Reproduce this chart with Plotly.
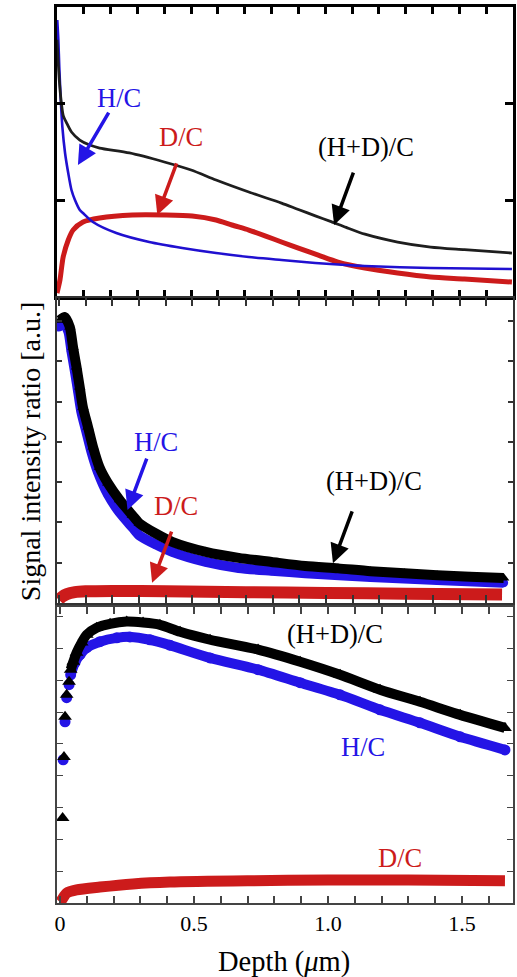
import plotly.graph_objects as go

# ---------------- Panel 1 (top) ----------------
p1_hd_depth = [0.0, 0.0085, 0.015, 0.023, 0.036, 0.054, 0.085, 0.122, 0.159, 0.27, 0.40, 0.50, 0.593, 0.715, 0.837, 0.90, 0.963, 1.022, 1.078, 1.148, 1.27, 1.393, 1.519, 1.696]
p1_hd = [2.66, 2.245, 2.04, 1.88, 1.80, 1.707, 1.624, 1.572, 1.541, 1.49, 1.397, 1.314, 1.21, 1.086, 0.972, 0.905, 0.84, 0.78, 0.72, 0.65, 0.569, 0.517, 0.49, 0.455]

p1_h_depth = [0.001, 0.005, 0.0085, 0.014, 0.02, 0.03, 0.042, 0.054, 0.067, 0.085, 0.097, 0.134, 0.221, 0.344, 0.467, 0.593, 0.715, 0.837, 0.963, 1.078, 1.148, 1.393, 1.696]
p1_h = [2.865, 2.66, 2.38, 2.04, 1.76, 1.49, 1.28, 1.107, 1.003, 0.90, 0.869, 0.776, 0.662, 0.569, 0.507, 0.455, 0.414, 0.383, 0.352, 0.331, 0.321, 0.30, 0.29]

p1_d_depth = [0.0, 0.011, 0.023, 0.042, 0.060, 0.097, 0.159, 0.281, 0.407, 0.504, 0.593, 0.652, 0.715, 0.778, 0.837, 0.90, 0.974, 1.048, 1.148, 1.27, 1.393, 1.519, 1.696]
p1_d = [0.041, 0.176, 0.414, 0.590, 0.693, 0.776, 0.817, 0.848, 0.848, 0.838, 0.797, 0.745, 0.693, 0.631, 0.569, 0.507, 0.434, 0.362, 0.300, 0.248, 0.207, 0.186, 0.155]

# ---------------- Panel 2 (middle) ----------------
p2_hd_depth = [0.004, 0.022, 0.041, 0.053, 0.066, 0.078, 0.09, 0.109, 0.128, 0.152, 0.183, 0.227, 0.275, 0.301, 0.364, 0.424, 0.55, 0.673, 0.796, 0.922, 1.045, 1.167, 1.294, 1.416, 1.539, 1.665]
p2_hd = [7.02, 7.10, 6.85, 6.35, 5.86, 5.36, 4.86, 4.37, 3.87, 3.37, 2.98, 2.56, 2.18, 1.98, 1.72, 1.52, 1.27, 1.12, 1.02, 0.92, 0.86, 0.79, 0.74, 0.69, 0.65, 0.62]
p2_h_depth = [0.0, 0.015, 0.035, 0.047, 0.06, 0.072, 0.084, 0.103, 0.122, 0.146, 0.183, 0.227, 0.275, 0.301, 0.364, 0.424, 0.55, 0.673, 0.796, 0.922, 1.167, 1.416, 1.665]
p2_h = [6.85, 6.95, 6.75, 6.25, 5.75, 5.25, 4.75, 4.25, 3.75, 3.25, 2.70, 2.25, 1.88, 1.68, 1.45, 1.27, 1.02, 0.87, 0.80, 0.74, 0.645, 0.57, 0.50]
p2_d_depth = [0.0, 0.011, 0.03, 0.06, 0.10, 0.20, 0.40, 0.70, 1.00, 1.30, 1.659]
p2_d = [0.08, 0.15, 0.22, 0.27, 0.29, 0.30, 0.29, 0.27, 0.25, 0.23, 0.21]

# ---------------- Panel 3 (bottom) ----------------
p3_hd_depth = [0.010, 0.015, 0.019, 0.025, 0.034, 0.040, 0.050, 0.062, 0.081, 0.10, 0.137, 0.187, 0.249, 0.31, 0.373, 0.448, 0.56, 0.739, 0.896, 1.045, 1.194, 1.343, 1.493, 1.66]
p3_hd = [2.67, 4.59, 5.85, 6.54, 6.95, 7.33, 7.58, 7.86, 8.18, 8.43, 8.65, 8.77, 8.84, 8.81, 8.74, 8.52, 8.27, 7.96, 7.58, 7.17, 6.70, 6.32, 5.91, 5.50]
p3_h_depth = [0.012, 0.019, 0.025, 0.034, 0.040, 0.056, 0.075, 0.10, 0.149, 0.212, 0.261, 0.336, 0.41, 0.56, 0.739, 0.896, 1.045, 1.194, 1.343, 1.493, 1.66]
p3_h = [4.50, 5.69, 6.45, 6.86, 7.17, 7.55, 7.80, 8.02, 8.21, 8.33, 8.36, 8.27, 8.10, 7.70, 7.33, 6.92, 6.54, 6.07, 5.66, 5.22, 4.81]
p3_d_depth = [0.0, 0.006, 0.025, 0.062, 0.149, 0.272, 0.41, 0.70, 1.00, 1.30, 1.66]
p3_d = [0.03, 0.09, 0.31, 0.41, 0.50, 0.60, 0.66, 0.70, 0.72, 0.72, 0.70]

x_tick_vals = [round(0.1 * i, 1) for i in range(17)]
x_tick_text = ["0", "", "", "", "", "0.5", "", "", "", "", "1.0", "", "", "", "", "1.5", ""]

BLUE = "#2414e6"
RED = "#cc1b1b"
BLACK = "#1e1e1e"
FONT = "Liberation Serif"
SPL = dict(shape="spline", smoothing=0.7)

fig = go.Figure()

# panel 1
fig.add_trace(go.Scatter(x=p1_d_depth, y=p1_d, mode="lines", line=dict(color=RED, width=5, **SPL), xaxis="x", yaxis="y"))
fig.add_trace(go.Scatter(x=p1_h_depth, y=p1_h, mode="lines", line=dict(color="#2010d0", width=2.6, **SPL), xaxis="x", yaxis="y"))
fig.add_trace(go.Scatter(x=p1_hd_depth, y=p1_hd, mode="lines", line=dict(color=BLACK, width=2.8, **SPL), xaxis="x", yaxis="y"))

# panel 2
fig.add_trace(go.Scatter(x=p2_d_depth, y=p2_d, mode="lines", line=dict(color=RED, width=12, **SPL), xaxis="x2", yaxis="y2"))
fig.add_trace(go.Scatter(x=p2_h_depth, y=p2_h, mode="lines+markers", line=dict(color=BLUE, width=10, **SPL),
                         marker=dict(symbol="circle", size=9, color=BLUE), xaxis="x2", yaxis="y2"))
fig.add_trace(go.Scatter(x=p2_hd_depth, y=p2_hd, mode="lines+markers", line=dict(color="black", width=10, **SPL),
                         marker=dict(symbol="triangle-up", size=10, color="black"), xaxis="x2", yaxis="y2"))

# panel 3
fig.add_trace(go.Scatter(x=p3_d_depth, y=p3_d, mode="lines", line=dict(color=RED, width=11, **SPL), xaxis="x3", yaxis="y3"))
fig.add_trace(go.Scatter(x=p3_h_depth, y=p3_h, mode="markers", marker=dict(symbol="circle", size=11, color=BLUE), xaxis="x3", yaxis="y3"))
fig.add_trace(go.Scatter(x=p3_h_depth[4:], y=p3_h[4:], mode="lines", line=dict(color=BLUE, width=10, **SPL), xaxis="x3", yaxis="y3"))
fig.add_trace(go.Scatter(x=p3_hd_depth, y=p3_hd, mode="markers", marker=dict(symbol="triangle-up", size=12, color="black"), xaxis="x3", yaxis="y3"))
fig.add_trace(go.Scatter(x=p3_hd_depth[5:], y=p3_hd[5:], mode="lines", line=dict(color="black", width=10, **SPL), xaxis="x3", yaxis="y3"))

# axes
def xax(rng, anchor, lw, lc, tlen, tw, labels=False):
    return dict(range=rng, anchor=anchor, showgrid=False, zeroline=False, showline=True, linecolor=lc, linewidth=lw,
                mirror="ticks", ticks="inside", ticklen=tlen, tickwidth=tw, tickcolor=lc,
                tickmode="array", tickvals=x_tick_vals, ticktext=x_tick_text, showticklabels=labels,
                tickfont=dict(family=FONT, size=22, color="black"))

def yax(rng, domain, anchor, lw, lc, tlen, tw, tvals):
    return dict(range=rng, domain=domain, anchor=anchor, showgrid=False, zeroline=False, showline=True, linecolor=lc, linewidth=lw,
                mirror="ticks", ticks="inside", ticklen=tlen, tickwidth=tw, tickcolor=lc,
                tickmode="array", tickvals=tvals, showticklabels=False)

fig.update_layout(
    width=517, height=977,
    margin=dict(l=57, r=1, t=7, b=74),
    paper_bgcolor="white", plot_bgcolor="white",
    showlegend=False,
    font=dict(family=FONT, color="black"),
    xaxis=xax([0, 1.70], "y", 3, "black", 7, 3),
    yaxis=yax([0, 3], [0.6763, 1.0], "x", 3, "black", 8, 3, [1, 2]),
    xaxis2=xax([-0.007, 1.70], "y2", 2, "#333333", 8, 2),
    yaxis2=yax([0, 7.57], [0.3348, 0.6752], "x2", 2, "#333333", 5, 2, [1, 2, 3, 4, 5, 6, 7]),
    xaxis3=xax([-0.011, 1.69], "y3", 1.5, "#444444", 7, 1.5, labels=True),
    yaxis3=yax([0, 9.3], [0.0, 0.3304], "x3", 1.5, "#444444", 6, 1.2, [1, 2, 3, 4, 5, 6, 7, 8, 9]),
)

ann = []
def label(text, x, y, color, xr, yr, size=26.5, bg=None):
    d = dict(text=text, x=x, y=y, xref=xr, yref=yr, showarrow=False, xanchor="center", yanchor="middle",
             font=dict(family=FONT, size=size, color=color))
    if bg:
        d["bgcolor"] = bg
    ann.append(d)

def arrow(x, y, ax, ay, color, xr, yr):
    ann.append(dict(text="", x=x, y=y, ax=ax, ay=ay, xref=xr, yref=yr, axref=xr, ayref=yr, showarrow=True,
                    arrowhead=2, arrowsize=1.1, arrowwidth=3.5, arrowcolor=color))

# panel 1 labels
label("H/C", 0.23, 2.06, BLUE, "x", "y")
arrow(0.078, 1.366, 0.196, 1.924, BLUE, "x", "y")
label("D/C", 0.463, 1.655, RED, "x", "y")
arrow(0.374, 0.848, 0.448, 1.397, RED, "x", "y")
label("(H+D)/C", 1.152, 1.552, "black", "x", "y")
arrow(1.033, 0.745, 1.107, 1.303, "black", "x", "y")

# panel 2 labels
label("H/C", 0.364, 4.0, BLUE, "x2", "y2")
arrow(0.257, 2.31, 0.331, 3.62, BLUE, "x2", "y2")
label("D/C", 0.439, 2.41, RED, "x2", "y2")
arrow(0.349, 0.50, 0.424, 1.81, RED, "x2", "y2")
label("(H+D)/C", 1.178, 3.03, "black", "x2", "y2")
arrow(1.026, 0.99, 1.100, 2.31, "black", "x2", "y2")

# panel 3 labels
label("(H+D)/C", 1.026, 8.46, "black", "x3", "y3", bg="white")
label("H/C", 1.131, 4.91, BLUE, "x3", "y3")
label("D/C", 1.269, 1.42, RED, "x3", "y3")

# axis titles (positions in paper coordinates of the plot area)
ann.append(dict(text="Signal intensity ratio [a.u.]", x=(30 - 57) / 459, y=(903 - 452) / 896, xref="paper", yref="paper",
                xanchor="center", yanchor="middle", showarrow=False, textangle=-90,
                font=dict(family=FONT, size=28, color="black")))
ann.append(dict(text="Depth (<i>μ</i>m)", x=(285 - 57) / 459, y=(903 - 962) / 896, xref="paper", yref="paper",
                xanchor="center", yanchor="middle", showarrow=False,
                font=dict(family=FONT, size=28.5, color="black")))

fig.update_layout(annotations=ann)
fig.write_html("out.html", config={"displayModeBar": False},
               post_script="document.body.style.margin='0px';")
